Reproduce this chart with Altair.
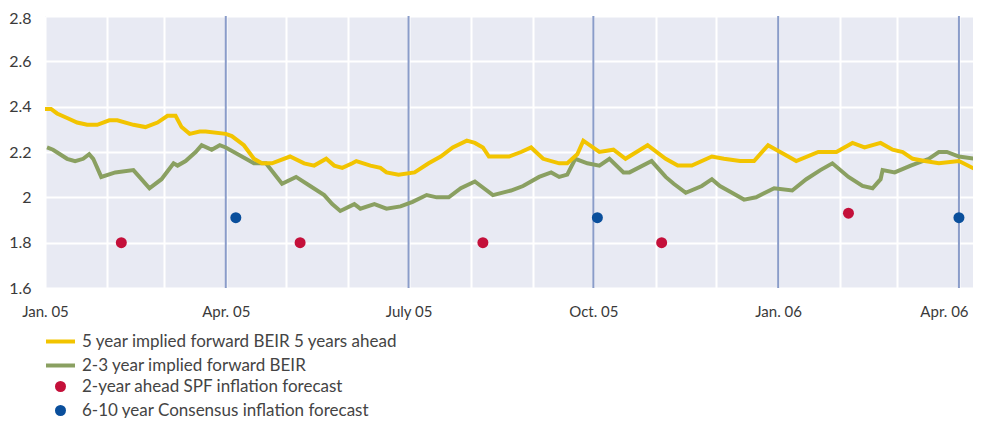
import altair as alt
import pandas as pd

# ---- data (day offset from 1 Jan 2005, value in %) ----
beir5_days = [0, 3, 6, 11, 16, 21, 26, 32, 36, 44,
              50, 56, 61, 65, 68, 72, 77, 80, 90, 93,
              99, 104, 108, 113, 122, 129, 134, 140, 144, 148,
              153, 155, 162, 167, 170, 176, 184, 191, 197, 203,
              210, 214, 218, 221, 231, 237, 242, 248, 256, 260,
              265, 268, 276, 283, 289, 300, 309, 315, 322, 332,
              338, 346, 353, 360, 368, 374, 385, 394, 402, 408,
              416, 422, 427, 432, 438, 445, 455, 464]
beir5_vals = [2.39, 2.39, 2.37, 2.35, 2.33, 2.32, 2.32, 2.34, 2.34, 2.32,
              2.31, 2.33, 2.36, 2.36, 2.31, 2.28, 2.29, 2.29, 2.28, 2.27,
              2.23, 2.17, 2.15, 2.15, 2.18, 2.15, 2.14, 2.17, 2.14, 2.13,
              2.15, 2.16, 2.14, 2.13, 2.11, 2.10, 2.11, 2.15, 2.18, 2.22,
              2.25, 2.24, 2.22, 2.18, 2.18, 2.20, 2.22, 2.17, 2.15, 2.15,
              2.19, 2.25, 2.20, 2.21, 2.17, 2.23, 2.17, 2.14, 2.14, 2.18,
              2.17, 2.16, 2.16, 2.23, 2.19, 2.16, 2.20, 2.20, 2.24, 2.22,
              2.24, 2.21, 2.20, 2.17, 2.16, 2.15, 2.16, 2.12]

beir23_days = [1, 4, 11, 15, 19, 22, 24, 28, 35, 44,
               47, 52, 58, 64, 66, 70, 75, 78, 83, 87,
               90, 104, 110, 118, 125, 132, 139, 143, 147, 154,
               157, 164, 170, 177, 183, 190, 195, 201, 207, 214,
               223, 232, 238, 246, 252, 256, 260, 264, 270, 276,
               281, 288, 291, 302, 309, 313, 319, 327, 332, 336,
               342, 348, 354, 363, 372, 379, 386, 392, 400, 407,
               412, 416, 417, 423, 431, 440, 445, 449, 455, 463]
beir23_vals = [2.22, 2.21, 2.17, 2.16, 2.17, 2.19, 2.17, 2.09, 2.11, 2.12,
               2.09, 2.04, 2.08, 2.15, 2.14, 2.16, 2.20, 2.23, 2.21, 2.23,
               2.22, 2.15, 2.15, 2.06, 2.09, 2.05, 2.01, 1.97, 1.94, 1.97,
               1.95, 1.97, 1.95, 1.96, 1.98, 2.01, 2.00, 2.00, 2.04, 2.07,
               2.01, 2.03, 2.05, 2.09, 2.11, 2.09, 2.10, 2.17, 2.15, 2.14,
               2.17, 2.11, 2.11, 2.16, 2.09, 2.06, 2.02, 2.05, 2.08, 2.05,
               2.02, 1.99, 2.00, 2.04, 2.03, 2.08, 2.12, 2.15, 2.09, 2.05,
               2.04, 2.08, 2.12, 2.11, 2.14, 2.17, 2.20, 2.20, 2.18, 2.17]

spf_days = [38, 127, 218, 307, 400]
spf_vals = [1.80, 1.80, 1.80, 1.80, 1.93]

consensus_days = [95, 275, 455]
consensus_vals = [1.91, 1.91, 1.91]

line_names = ["5 year implied forward BEIR 5 years ahead", "2-3 year implied forward BEIR"]
dot_names = ["2-year ahead SPF inflation forecast", "6-10 year Consensus inflation forecast"]

quarter_lines = ["2005-04-01", "2005-07-01", "2005-10-01", "2006-01-01", "2006-04-01"]
month_ticks = [(2005, m) for m in range(1, 13)] + [(2006, m) for m in range(1, 5)]
month_label = {0: "Jan.", 3: "Apr.", 6: "July", 9: "Oct."}
y_ticks = [1.6, 1.8, 2.0, 2.2, 2.4, 2.6, 2.8]

# ---- build tables ----
base = pd.Timestamp("2005-01-01")


def iso(days):
    return [(base + pd.Timedelta(days=d)).strftime("%Y-%m-%dT%H:%M:%SZ") for d in days]


lines_df = pd.concat([
    pd.DataFrame({"date": iso(beir23_days), "value": beir23_vals, "series": line_names[1]}),
    pd.DataFrame({"date": iso(beir5_days), "value": beir5_vals, "series": line_names[0]}),
])
dots_df = pd.concat([
    pd.DataFrame({"date": iso(spf_days), "value": spf_vals, "series": dot_names[0]}),
    pd.DataFrame({"date": iso(consensus_days), "value": consensus_vals, "series": dot_names[1]}),
])
rules_df = pd.DataFrame({"date": [d + "T00:00:00Z" for d in quarter_lines]})

YELLOW = "#f2c400"
GREEN = "#8aa061"
RED = "#c4103a"
BLUE = "#0a4f9c"
QBLUE = "#8a9cc9"
FONT = "Lato"

label_expr = "(" + " : ".join(
    f"utcmonth(datum.value) == {k} ? '{v} '" for k, v in month_label.items()
) + " : '') + (utcmonth(datum.value) % 3 == 0 ? utcFormat(datum.value, '%y') : '')"

x_enc = alt.X(
    "date:T",
    scale=alt.Scale(type="utc",
                    domain=[alt.DateTime(year=2005, month=1, date=1, utc=True),
                            alt.DateTime(year=2006, month=4, date=8, utc=True)]),
    axis=alt.Axis(
        values=[alt.DateTime(year=y, month=m, date=1, utc=True) for y, m in month_ticks],
        labelExpr=label_expr, title=None, grid=True, gridColor="white", gridWidth=2,
        ticks=False, tickSize=0, domain=False, labelFlush=False, labelPadding=16,
        labelOffset=alt.condition(
            "utcyear(datum.value) == 2006 && utcmonth(datum.value) == 3",
            alt.value(-15), alt.value(0)),
        labelFont=FONT, labelFontSize=15, labelColor="#3a3a3a",
    ),
)
y_enc = alt.Y(
    "value:Q",
    scale=alt.Scale(domain=[1.6, 2.8], nice=False, zero=False),
    axis=alt.Axis(
        values=y_ticks, format="~g", title=None, grid=True, gridColor="white", gridWidth=2,
        ticks=False, tickSize=0, domain=False, labelPadding=14,
        labelOffset=alt.condition("datum.value >= 2.75", alt.value(2), alt.value(0)),
        labelFont=FONT, labelFontSize=16, labelColor="#3a3a3a",
    ),
)

rules = alt.Chart(rules_df).mark_rule(color=QBLUE, strokeWidth=2).encode(x=x_enc)

lines = alt.Chart(lines_df).mark_line(strokeWidth=4, clip=True).encode(
    x=x_enc, y=y_enc,
    color=alt.Color(
        "series:N",
        scale=alt.Scale(domain=line_names, range=[YELLOW, GREEN]),
        sort=line_names,
        legend=alt.Legend(
            orient="none", legendX=7, legendY=317, title=None, padding=0,
            symbolType="M-2.64,0L2.64,0", symbolSize=121, symbolStrokeWidth=4,
            labelOffset=13, labelLimit=0, rowPadding=6,
            labelFont=FONT, labelFontSize=17, labelColor="#444444",
        ),
    ),
    order=alt.Order("series:N", sort="ascending"),
)

dots = alt.Chart(dots_df).mark_circle(size=121, opacity=1).encode(
    x=x_enc, y=y_enc,
    fill=alt.Fill(
        "series:N",
        scale=alt.Scale(domain=dot_names, range=[RED, BLUE]),
        legend=alt.Legend(
            orient="none", legendX=7, legendY=362, title=None, padding=0,
            symbolType="circle", symbolSize=121, symbolOpacity=1,
            labelOffset=13, labelLimit=0, rowPadding=6,
            labelFont=FONT, labelFontSize=17, labelColor="#444444",
        ),
    ),
)

chart = alt.layer(rules, lines, dots).resolve_scale(color="independent").properties(
    width=928, height=272,
    autosize=alt.AutoSizeParams(type="none"),
    padding={"left": 37, "top": 8, "right": 0, "bottom": 130},
    background="white",
).configure_view(fill="#e8eaf3", strokeWidth=0)

chart.save("out.html", embed_options={"renderer": "svg", "actions": False})
